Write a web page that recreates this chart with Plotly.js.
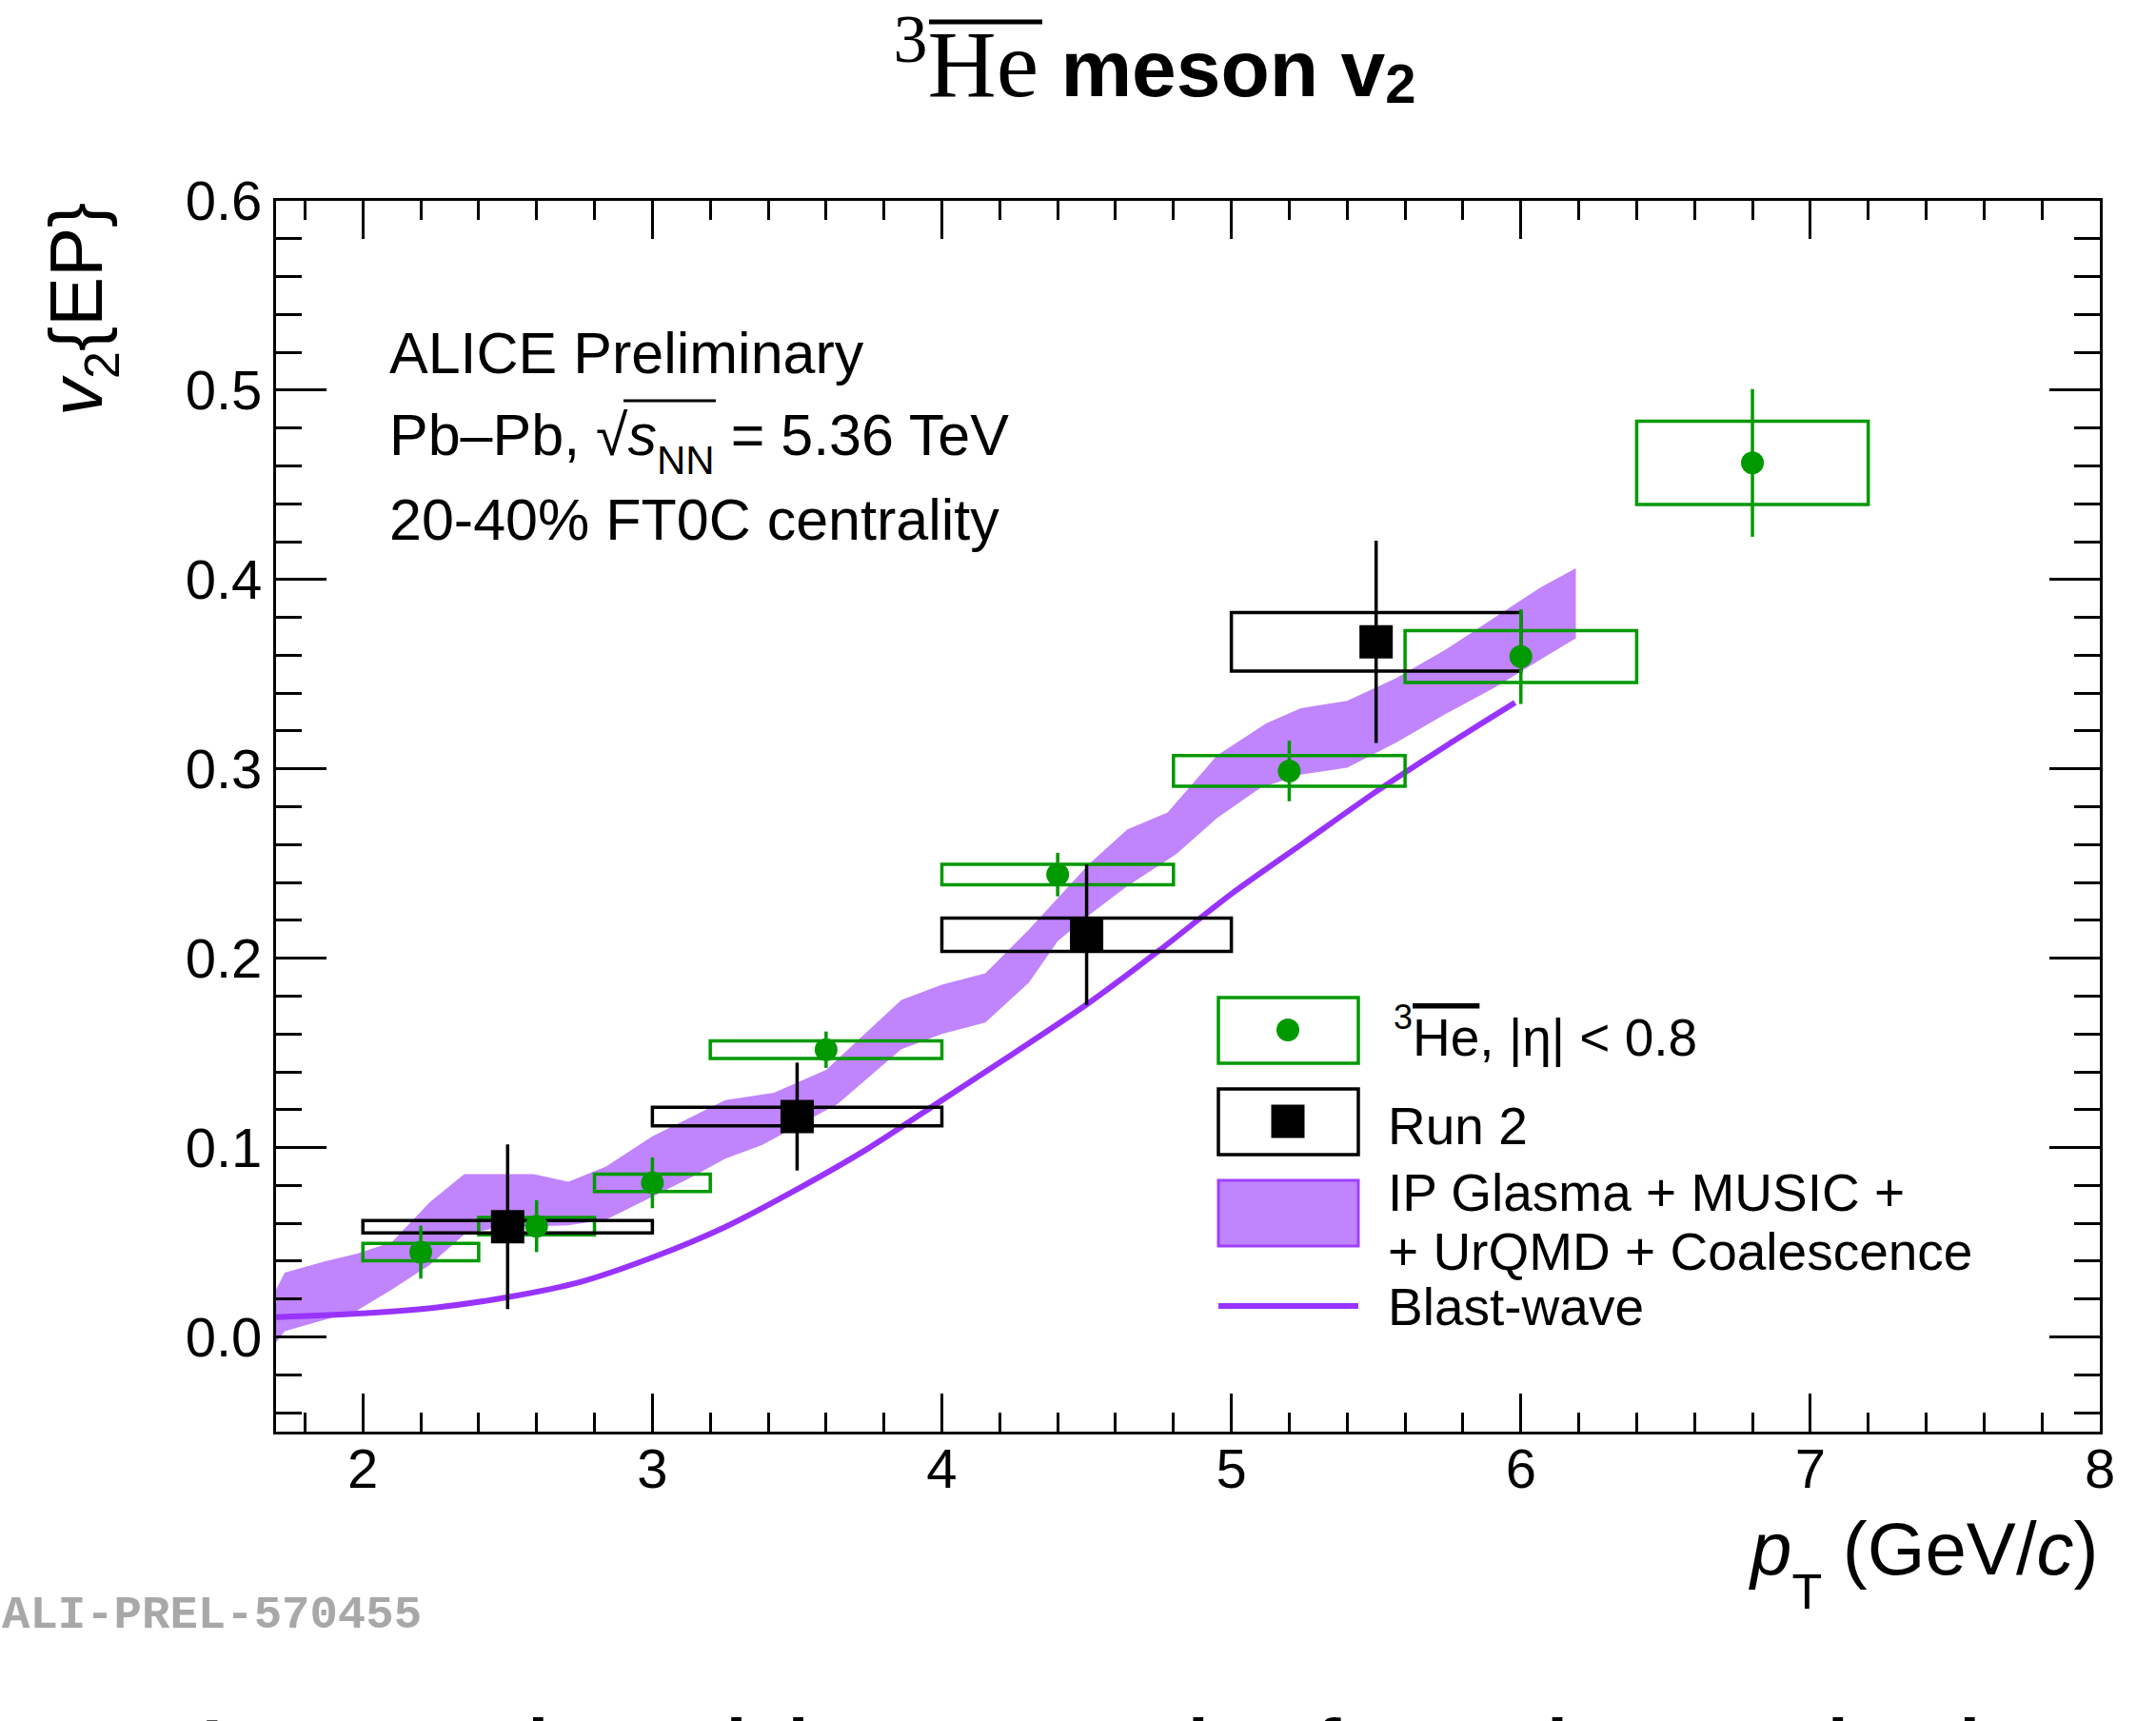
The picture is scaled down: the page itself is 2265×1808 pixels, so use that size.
<!DOCTYPE html>
<html>
<head>
<meta charset="utf-8">
<script src="https://cdn.plot.ly/plotly-3.0.1.min.js"></script>
<style>html,body{margin:0;padding:0;background:#fff;}#chart{width:2265px;height:1808px;}</style>
</head>
<body>
<div id="chart"></div>
<script>
// ---------- data ----------
// anti-3He (Run 3), |eta| < 0.8
const ptHe = [2.2, 2.6, 3.0, 3.6, 4.4, 5.2, 6.0, 6.8];
const binLowHe = [2.0, 2.4, 2.8, 3.2, 4.0, 4.8, 5.6, 6.4];
const binHighHe = [2.4, 2.8, 3.2, 4.0, 4.8, 5.6, 6.4, 7.2];
const v2He = [0.0448, 0.0585, 0.0814, 0.1517, 0.2442, 0.2989, 0.3593, 0.4616];
const statHe = [0.014, 0.0137, 0.0134, 0.0096, 0.0115, 0.016, 0.025, 0.039];
const systHe = [0.0046, 0.0046, 0.0046, 0.0046, 0.0054, 0.0081, 0.0137, 0.022];

// Run 2
const ptRun2 = [2.5, 3.5, 4.5, 5.5];
const binLowRun2 = [2.0, 3.0, 4.0, 5.0];
const binHighRun2 = [3.0, 4.0, 5.0, 6.0];
const v2Run2 = [0.0582, 0.1164, 0.2124, 0.3671];
const statRun2 = [0.0435, 0.0285, 0.0371, 0.0534];
const systRun2 = [0.0033, 0.0049, 0.0088, 0.0155];

// IP Glasma + MUSIC + UrQMD + Coalescence band
const bandUpX = [1.70, 1.73, 1.87, 1.98, 2.10, 2.23, 2.35, 2.59, 2.71, 2.84, 3.00, 3.13, 3.25, 3.42, 3.60, 3.86, 4.00, 4.15, 4.30, 4.51, 4.64, 4.78, 4.95, 5.12, 5.24, 5.40, 5.57, 5.74, 5.91, 6.07, 6.19];
const bandUpY = [0.025, 0.034, 0.040, 0.044, 0.050, 0.071, 0.086, 0.086, 0.082, 0.090, 0.106, 0.116, 0.125, 0.129, 0.141, 0.178, 0.186, 0.192, 0.215, 0.250, 0.268, 0.277, 0.307, 0.324, 0.332, 0.336, 0.348, 0.363, 0.380, 0.396, 0.406];
const bandLoX = [1.70, 1.73, 1.98, 2.10, 2.23, 2.35, 2.47, 2.71, 2.84, 3.00, 3.13, 3.25, 3.38, 3.64, 3.86, 4.00, 4.15, 4.30, 4.40, 4.51, 4.64, 4.81, 4.95, 5.10, 5.24, 5.40, 5.57, 5.74, 5.91, 6.07, 6.19];
const bandLoY = [-0.003, 0.003, 0.014, 0.025, 0.038, 0.054, 0.058, 0.059, 0.062, 0.074, 0.084, 0.094, 0.1015, 0.123, 0.152, 0.160, 0.166, 0.187, 0.209, 0.223, 0.238, 0.255, 0.274, 0.290, 0.297, 0.3006, 0.314, 0.329, 0.343, 0.358, 0.369];

// Blast-wave
const bwX = [1.70, 2.00, 2.25, 2.50, 2.75, 3.00, 3.25, 3.50, 3.75, 4.00, 4.25, 4.50, 4.75, 5.00, 5.25, 5.50, 5.75, 5.98];
const bwY = [0.0105, 0.0125, 0.0155, 0.021, 0.029, 0.042, 0.058, 0.078, 0.100, 0.125, 0.150, 0.1756, 0.204, 0.234, 0.261, 0.288, 0.313, 0.335];

const xTickVals = [2, 3, 4, 5, 6, 7, 8];
const yTickVals = [0.0, 0.1, 0.2, 0.3, 0.4, 0.5, 0.6];

// ---------- styles ----------
const GREEN = 'rgb(0,153,0)';
const BAND = 'rgb(192,132,252)';
const BW = 'rgb(153,51,255)';
const SANS = 'Liberation Sans, Arial, sans-serif';

const W = 2265, H = 1808;
const M = {l: 290, r: 59, t: 211, b: 304};
const PW = W - M.l - M.r, PH = H - M.t - M.b;
const px = X => (X - M.l) / PW;
const py = Y => (H - M.b - Y) / PH;

function boxPath(lo, hi, yc, s) {
  const xs = [], ys = [];
  for (let i = 0; i < yc.length; i++) {
    const a = yc[i] - s[i], b = yc[i] + s[i];
    xs.push(lo[i], hi[i], hi[i], lo[i], lo[i], hi[i], null);
    ys.push(a, a, b, b, a, a, null);
  }
  return {xs, ys};
}

const boxHe = boxPath(binLowHe, binHighHe, v2He, systHe);
const boxR2 = boxPath(binLowRun2, binHighRun2, v2Run2, systRun2);

const traces = [
  {x: bandUpX.concat(bandLoX.slice().reverse()), y: bandUpY.concat(bandLoY.slice().reverse()),
   mode: 'lines', fill: 'toself', fillcolor: BAND, line: {width: 0, color: BAND}, hoverinfo: 'skip', showlegend: false},
  {x: bwX, y: bwY, mode: 'lines', line: {color: BW, width: 6, shape: 'spline', smoothing: 0.8}, showlegend: false},
  {x: boxHe.xs, y: boxHe.ys, mode: 'lines', line: {color: GREEN, width: 3.5}, showlegend: false, connectgaps: false},
  {x: boxR2.xs, y: boxR2.ys, mode: 'lines', line: {color: 'black', width: 3.5}, showlegend: false, connectgaps: false},
  {x: ptHe, y: v2He, mode: 'markers', marker: {color: GREEN, size: 24, symbol: 'circle'},
   error_y: {type: 'data', array: statHe, visible: true, color: GREEN, thickness: 3.5, width: 0}, showlegend: false},
  {x: ptRun2, y: v2Run2, mode: 'markers', marker: {color: 'black', size: 35, symbol: 'square'},
   error_y: {type: 'data', array: statRun2, visible: true, color: 'black', thickness: 3.5, width: 0}, showlegend: false}
];

function ann(text, X, Y, size, opts) {
  return Object.assign({text: text, xref: 'paper', yref: 'paper', x: px(X), y: py(Y), showarrow: false,
    xanchor: 'left', yanchor: 'top', font: {family: SANS, size: size, color: 'black'}}, opts || {});
}

const annotations = [
  ann('<i>v</i><span style="font-size:52px;baseline-shift:-18px">2</span>{EP}', 86, 325, 78, {textangle: -90, xanchor: 'center', yanchor: 'middle'}),
  ann('<i>p</i><span style="font-size:52px;baseline-shift:-36px">T</span> (GeV/<i>c</i>)', 2207, 1581, 78, {xanchor: 'right'}),
  ann('ALICE Preliminary', 407, 335, 61),
  ann('Pb\u2013Pb, \u221A<i>s</i><span style="font-size:42px;baseline-shift:-20px">NN</span> = 5.36 TeV', 407, 421, 61),
  ann('20-40% FT0C centrality', 407, 510, 61),
  ann('<span style="font-size:36px;baseline-shift:28px">3</span><span style="text-decoration:overline">He</span>, |\u03B7| &lt; 0.8', 1462, 1046, 55),
  ann('Run 2', 1456, 1150, 55),
  ann('IP Glasma + MUSIC +', 1456, 1220, 55),
  ann('+ UrQMD + Coalescence', 1456, 1282, 55),
  ann('Blast-wave', 1456, 1340, 55),
  ann('<b>ALI-PREL-570455</b>', 0, 1697, 49, {yanchor: 'middle', font: {family: 'Liberation Mono, Courier New, monospace', size: 49, color: '#a8a8a8'}}),
  ann('<b>Increased precision constrains formation mechanism</b>', 210, 1788, 78)
];

const shapes = [
  // overline bars (anti-particle bar in the title, square-root bar)
  {type: 'line', xref: 'paper', yref: 'paper', x0: px(976), x1: px(1095), y0: py(23), y1: py(23), line: {color: 'black', width: 5}},
  {type: 'line', xref: 'paper', yref: 'paper', x0: px(655), x1: px(752), y0: py(421), y1: py(421), line: {color: 'black', width: 3}},
  // legend
  {type: 'rect', xref: 'paper', yref: 'paper', x0: px(1280), x1: px(1427), y0: py(1117), y1: py(1048), line: {color: GREEN, width: 3.5}},
  {type: 'circle', xref: 'paper', yref: 'paper', x0: px(1353 - 12), x1: px(1353 + 12), y0: py(1082 + 12), y1: py(1082 - 12), fillcolor: GREEN, line: {width: 0}},
  {type: 'rect', xref: 'paper', yref: 'paper', x0: px(1280), x1: px(1427), y0: py(1213), y1: py(1144), line: {color: 'black', width: 3.5}},
  {type: 'rect', xref: 'paper', yref: 'paper', x0: px(1353 - 17.5), x1: px(1353 + 17.5), y0: py(1178 + 17.5), y1: py(1178 - 17.5), fillcolor: 'black', line: {width: 0}},
  {type: 'rect', xref: 'paper', yref: 'paper', x0: px(1280), x1: px(1427), y0: py(1309), y1: py(1240), fillcolor: BAND, line: {color: 'rgb(160,64,255)', width: 3}},
  {type: 'line', xref: 'paper', yref: 'paper', x0: px(1280), x1: px(1427), y0: py(1372), y1: py(1372), line: {color: BW, width: 6}}
];

const axisCommon = {
  showgrid: false, zeroline: false, showline: true, linecolor: 'black', linewidth: 3,
  mirror: 'allticks', ticks: 'inside', tickcolor: 'black', tickwidth: 3,
  tickfont: {family: SANS, size: 58, color: 'black'}
};

const layout = {
  width: W, height: H,
  margin: Object.assign({pad: 0, autoexpand: false}, M),
  paper_bgcolor: 'white', plot_bgcolor: 'white',
  showlegend: false,
  title: {
    text: '<span style="font-family:Liberation Serif;font-weight:normal;font-size:72px;baseline-shift:36px">3</span><span style="font-family:Liberation Serif;font-weight:normal;font-size:100px">He</span> meson v<span style="font-size:58px;baseline-shift:-7px">2</span>',
    font: {family: SANS, size: 84, color: 'black', weight: 'bold'},
    x: 1213 / W, xanchor: 'center', xref: 'container',
    y: 1 - 72 / H, yanchor: 'middle', yref: 'container'
  },
  xaxis: Object.assign({}, axisCommon, {
    range: [1.7, 8], tickmode: 'array', tickvals: xTickVals, ticktext: xTickVals.map(String), ticklen: 40,
    ticklabelstandoff: -14,
    minor: {dtick: 0.2, tick0: 0, ticks: 'inside', ticklen: 20, tickwidth: 3, tickcolor: 'black'}
  }),
  yaxis: Object.assign({}, axisCommon, {
    range: [-0.05, 0.6], tickmode: 'array', tickvals: yTickVals, ticktext: yTickVals.map(v => v.toFixed(1)), ticklen: 53,
    minor: {dtick: 0.02, tick0: 0, ticks: 'inside', ticklen: 27, tickwidth: 3, tickcolor: 'black'}
  }),
  annotations: annotations,
  shapes: shapes
};

Plotly.newPlot('chart', traces, layout, {staticPlot: true, displayModeBar: false});
</script>
</body>
</html>
